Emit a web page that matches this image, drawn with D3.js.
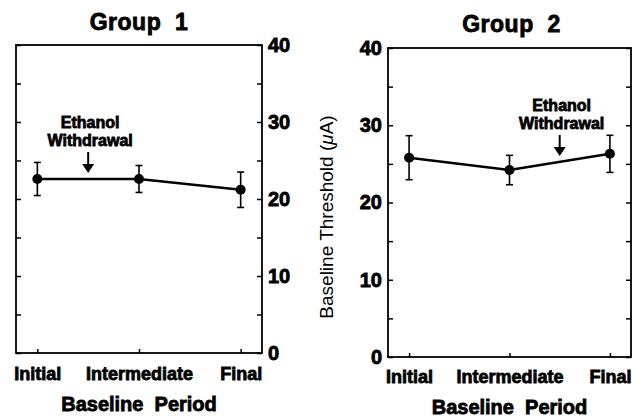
<!doctype html>
<html>
<head>
<meta charset="UTF-8">
<title>Baseline threshold</title>
<script src="https://d3js.org/d3.v7.min.js"></script>
<style>
  body { margin: 0; background: #fff; }
  svg { display: block; font-family: "Liberation Sans", Arial, Helvetica, sans-serif; }
  .axis .domain { display: none; }
  .axis line { stroke: #000; stroke-width: 1.5; }
  .heavy { stroke: #000; stroke-width: 0.8px; paint-order: stroke; }
</style>
</head>
<body>
<svg width="632" height="417"></svg>
<script>
// data
var categories = ["Initial", "Intermediate", "Final"];
var group1Mean = [22.6, 22.6, 21.2];
var group1Sem  = [2.15, 1.75, 2.3];
var group2Mean = [25.8, 24.2, 26.3];
var group2Sem  = [2.85, 1.9, 2.4];
var yTicks = [0, 5, 10, 15, 20, 25, 30, 35, 40];
// withdrawal arrow sits between these two periods
var group1Arrow = [0, 1];
var group2Arrow = [1, 2];

var svg = d3.select("svg");

function drawPanel(p){
  var x = d3.scalePoint().domain(categories).range([p.left, p.right]).padding(0.21);
  var y = d3.scaleLinear().domain([0, 40]).range([p.bottom, p.top]);
  var g = svg.append("g");

  // frame
  g.append("rect")
    .attr("x", p.left).attr("y", p.top)
    .attr("width", p.right - p.left).attr("height", p.bottom - p.top)
    .attr("fill", "none").attr("stroke", "#000").attr("stroke-width", 1.8);

  var fmt = function(d){ return d % 10 === 0 ? d : ""; };

  // labelled axis
  var labAxis = (p.labelSide === "right" ? d3.axisRight(y) : d3.axisLeft(y))
    .tickValues(yTicks).tickSizeInner(-5).tickSizeOuter(0).tickPadding(6).tickFormat(fmt);
  g.append("g").attr("class", "axis")
    .attr("transform", "translate(" + (p.labelSide === "right" ? p.right : p.left) + ",0)")
    .call(labAxis)
    .selectAll("text").attr("class", "heavy")
    .attr("font-size", 20).attr("font-weight", "bold").attr("fill", "#000");

  // unlabelled axis on the other side
  var other = (p.labelSide === "right" ? d3.axisLeft(y) : d3.axisRight(y))
    .tickValues(yTicks).tickSizeInner(-5).tickSizeOuter(0).tickFormat("");
  g.append("g").attr("class", "axis")
    .attr("transform", "translate(" + (p.labelSide === "right" ? p.left : p.right) + ",0)")
    .call(other);

  // x axis
  g.append("g").attr("class", "axis")
    .attr("transform", "translate(0," + p.bottom + ")")
    .call(d3.axisBottom(x).tickSizeInner(-4).tickSizeOuter(0).tickPadding(p.xPad))
    .selectAll("text").attr("class", "heavy")
    .attr("font-size", 18).attr("font-weight", "bold").attr("fill", "#000");

  // error bars
  var eb = g.selectAll(".eb").data(p.mean).enter().append("g");
  eb.append("line")
    .attr("x1", function(d, i){ return x(categories[i]); })
    .attr("x2", function(d, i){ return x(categories[i]); })
    .attr("y1", function(d, i){ return y(d + p.sem[i]); })
    .attr("y2", function(d, i){ return y(d - p.sem[i]); })
    .attr("stroke", "#000").attr("stroke-width", 1.6);
  [1, -1].forEach(function(s){
    eb.append("line")
      .attr("x1", function(d, i){ return x(categories[i]) - 3.5; })
      .attr("x2", function(d, i){ return x(categories[i]) + 3.5; })
      .attr("y1", function(d, i){ return y(d + s * p.sem[i]); })
      .attr("y2", function(d, i){ return y(d + s * p.sem[i]); })
      .attr("stroke", "#000").attr("stroke-width", 1.6);
  });

  // line + dots
  var line = d3.line()
    .x(function(d, i){ return x(categories[i]); })
    .y(function(d){ return y(d); });
  g.append("path").datum(p.mean)
    .attr("d", line).attr("fill", "none").attr("stroke", "#000").attr("stroke-width", 2.6);
  g.selectAll(".dot").data(p.mean).enter().append("circle")
    .attr("cx", function(d, i){ return x(categories[i]); })
    .attr("cy", function(d){ return y(d); })
    .attr("r", 5).attr("fill", "#000");

  // title
  g.append("text").attr("class", "heavy")
    .attr("x", (p.left + p.right) / 2 + p.titleDx).attr("y", p.titleY)
    .attr("text-anchor", "middle").attr("font-size", 23).attr("font-weight", "bold")
    .attr("letter-spacing", 0.5).style("white-space", "pre")
    .text(p.title);

  // x axis title
  g.append("text").attr("class", "heavy")
    .attr("x", x(categories[1])).attr("y", p.bottom + p.xTitleDy)
    .attr("text-anchor", "middle").attr("font-size", 20).attr("font-weight", "bold")
    .style("white-space", "pre")
    .text("Baseline  Period");

  // ethanol withdrawal arrow
  var a = p.arrow;
  var ax = (x(categories[a[0]]) + x(categories[a[1]])) / 2;
  var tip = y((p.mean[a[0]] + p.mean[a[1]]) / 2) - 6;
  g.append("line")
    .attr("x1", ax).attr("x2", ax).attr("y1", tip - 21).attr("y2", tip - 8)
    .attr("stroke", "#000").attr("stroke-width", 2);
  g.append("path")
    .attr("d", "M" + (ax - 6) + "," + (tip - 9) + "L" + (ax + 6) + "," + (tip - 9) + "L" + ax + "," + tip + "Z")
    .attr("fill", "#000");
  g.append("text").attr("class", "heavy")
    .attr("x", ax + 2).attr("y", tip - 27)
    .attr("text-anchor", "middle").attr("font-size", 16).attr("font-weight", "bold")
    .text("Withdrawal");
  g.append("text").attr("class", "heavy")
    .attr("x", ax + 2).attr("y", tip - 45)
    .attr("text-anchor", "middle").attr("font-size", 16).attr("font-weight", "bold")
    .text("Ethanol");

  return y;
}

drawPanel({
  left: 16, right: 262, top: 45, bottom: 353,
  labelSide: "right", xPad: 14, xTitleDy: 58,
  mean: group1Mean, sem: group1Sem, arrow: group1Arrow,
  title: "Group  1", titleY: 30, titleDx: 0
});

drawPanel({
  left: 388, right: 631, top: 48, bottom: 357,
  labelSide: "left", xPad: 13, xTitleDy: 57,
  mean: group2Mean, sem: group2Sem, arrow: group2Arrow,
  title: "Group  2", titleY: 32, titleDx: 2
});

// y axis title (right panel)
var yt = svg.append("text")
  .attr("transform", "translate(333,217) rotate(-90)")
  .attr("text-anchor", "middle").attr("font-size", 19);
yt.append("tspan").text("Baseline Threshold (");
yt.append("tspan").attr("font-style", "italic").text("\u03bc");
yt.append("tspan").text("A)");
</script>
</body>
</html>
